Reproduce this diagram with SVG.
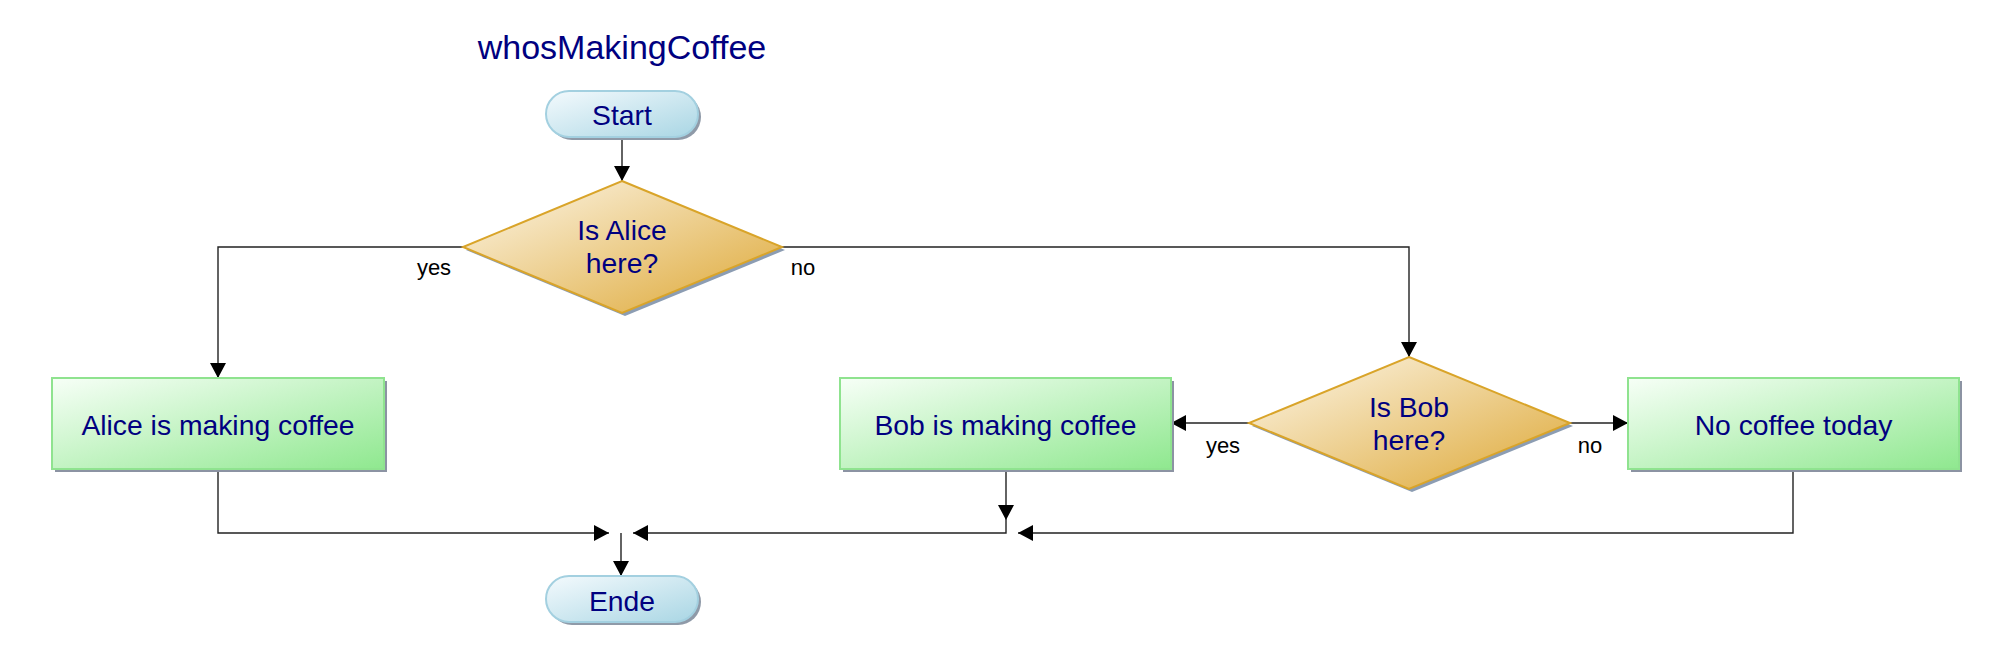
<svg xmlns="http://www.w3.org/2000/svg" width="2010" height="666" viewBox="0 0 2010 666">
<defs>
<linearGradient id="gTerm" x1="0" y1="0" x2="1" y2="1"><stop offset="0" stop-color="#f4fafd"/><stop offset="1" stop-color="#a9d6e4"/></linearGradient>
<linearGradient id="gDec" x1="0" y1="0" x2="1" y2="1"><stop offset="0.15" stop-color="#f8ebcf"/><stop offset="0.85" stop-color="#e2b34f"/></linearGradient>
<linearGradient id="gProc" x1="0" y1="0" x2="1" y2="1"><stop offset="0" stop-color="#f7fff7"/><stop offset="1" stop-color="#8fe88f"/></linearGradient>
<marker id="arr" markerUnits="userSpaceOnUse" markerWidth="16" markerHeight="16" viewBox="0 0 16 16" refX="15" refY="8" orient="auto"><path d="M0,0 L15,8 L0,16 Z" fill="#000"/></marker>
</defs>
<style>
.term{fill:url(#gTerm);stroke:#a3d0e0;stroke-width:2}
.dec{fill:url(#gDec);stroke:#d9a429;stroke-width:2}
.proc{fill:url(#gProc);stroke:#8fe38f;stroke-width:2}
.shTerm{fill:#8f9aa8}
.shDec{fill:#8c9db3}
.shProc{fill:#8c93a3}
.lbl{font-family:"Liberation Sans",Arial,sans-serif;font-size:28.3px;fill:#000080;text-anchor:middle}
.title{font-family:"Liberation Sans",Arial,sans-serif;font-size:34px;fill:#000080;text-anchor:middle}
.elbl{font-family:"Liberation Sans",Arial,sans-serif;font-size:22px;fill:#000;text-anchor:middle}
.edge{fill:none;stroke:#222;stroke-width:1.4}
</style>
<rect width="2010" height="666" fill="#fff"/>
<text class="title" x="622" y="59">whosMakingCoffee</text>

<g id="connectors">
<path class="edge" d="M622,137 V181" marker-end="url(#arr)"/>
<path class="edge" d="M463,247 H218 V378" marker-end="url(#arr)"/>
<path class="edge" d="M782,247 H1409 V357" marker-end="url(#arr)"/>
<path class="edge" d="M1249,423 H1171" marker-end="url(#arr)"/>
<path class="edge" d="M1570,423 H1628" marker-end="url(#arr)"/>
<path class="edge" d="M218,469 V533 H609" marker-end="url(#arr)"/>
<path class="edge" d="M1006,469 V520" marker-end="url(#arr)"/>
<path class="edge" d="M1006,520 V533 H633" marker-end="url(#arr)"/>
<path class="edge" d="M1793,469 V533 H1018" marker-end="url(#arr)"/>
<path class="edge" d="M621,533 V576" marker-end="url(#arr)"/>
<text class="elbl" x="434" y="275">yes</text>
<text class="elbl" x="803" y="275">no</text>
<text class="elbl" x="1223" y="453">yes</text>
<text class="elbl" x="1590" y="453">no</text>
</g>

<g id="start">
<rect class="shTerm" x="549" y="94" width="152" height="46" rx="23"/>
<rect class="term" x="546" y="91" width="152" height="46" rx="23"/>
<text class="lbl" x="622" y="125">Start</text>
</g>

<g id="isAlice">
<polygon class="shDec" points="625,184 785,250 625,316 466,250"/>
<polygon class="dec" points="622,181 782,247 622,313 463,247"/>
<text class="lbl" x="622" y="240">Is Alice</text>
<text class="lbl" x="622" y="273">here?</text>
</g>

<g id="alice">
<rect class="shProc" x="55" y="381" width="332" height="91"/>
<rect class="proc" x="52" y="378" width="332" height="91"/>
<text class="lbl" x="218" y="435">Alice is making coffee</text>
</g>

<g id="isBob">
<polygon class="shDec" points="1412,360 1573,426 1412,492 1252,426"/>
<polygon class="dec" points="1409,357 1570,423 1409,489 1249,423"/>
<text class="lbl" x="1409" y="417">Is Bob</text>
<text class="lbl" x="1409" y="450">here?</text>
</g>

<g id="bob">
<rect class="shProc" x="843" y="381" width="331" height="91"/>
<rect class="proc" x="840" y="378" width="331" height="91"/>
<text class="lbl" x="1005.5" y="435">Bob is making coffee</text>
</g>

<g id="noCoffee">
<rect class="shProc" x="1631" y="381" width="331" height="91"/>
<rect class="proc" x="1628" y="378" width="331" height="91"/>
<text class="lbl" x="1793.5" y="435">No coffee today</text>
</g>

<g id="ende">
<rect class="shTerm" x="549" y="579" width="152" height="46" rx="23"/>
<rect class="term" x="546" y="576" width="152" height="46" rx="23"/>
<text class="lbl" x="622" y="611">Ende</text>
</g>
</svg>
